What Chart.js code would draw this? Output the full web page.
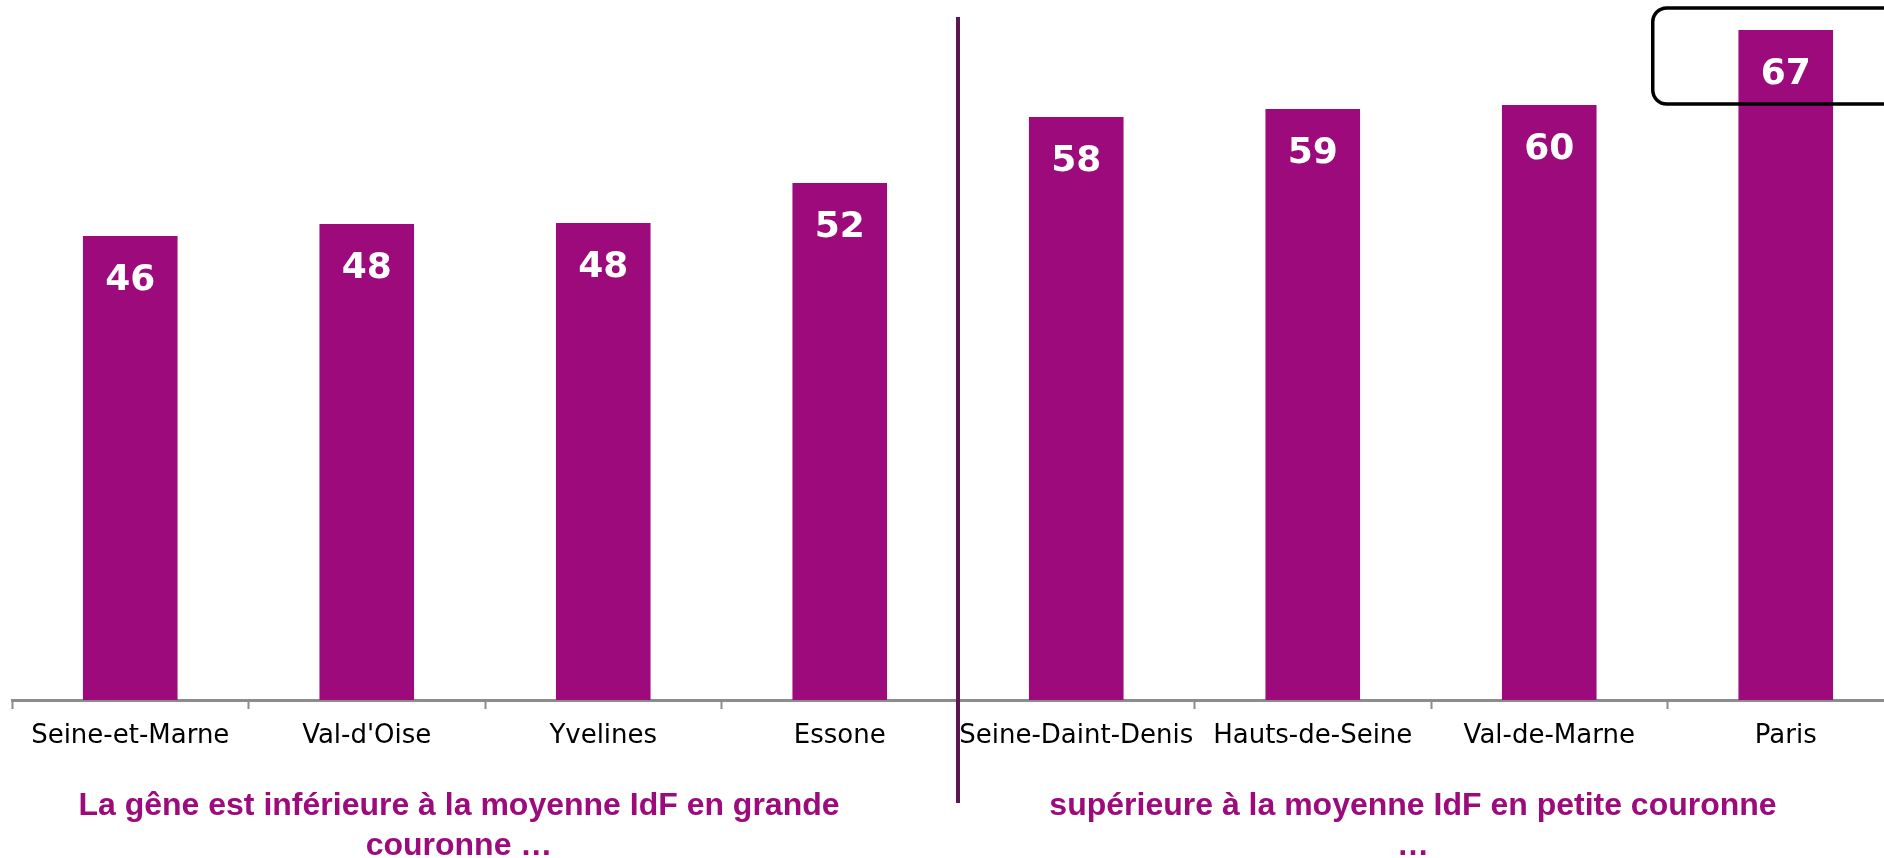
<!DOCTYPE html>
<html><head><meta charset="utf-8">
<script src="https://cdn.jsdelivr.net/npm/chart.js@4.4.1/dist/chart.umd.min.js"></script>
<style>
html,body{margin:0;padding:0;overflow:hidden;background:#fff;width:1884px;height:858px}
#wrap{position:absolute;left:0;top:0;width:1904px;height:858px}
</style>
</head><body>
<div id="wrap"><canvas id="c" width="1904" height="858"></canvas></div>
<script>
const categories = ['Seine-et-Marne', "Val-d'Oise", 'Yvelines', 'Essone', 'Seine-Daint-Denis', 'Hauts-de-Seine', 'Val-de-Marne', 'Paris'];
const values = [46.4, 47.6, 47.7, 51.7, 58.3, 59.1, 59.5, 67.0];
const valueLabels = ['46', '48', '48', '52', '58', '59', '60', '67'];
const noteLeft = ['La gêne est inférieure à la moyenne IdF en grande', 'couronne …'];
const noteRight = ['supérieure à la moyenne IdF en petite couronne', '…'];
const highlightIndex = 7;

const BAR = '#9C0A7B';
const NOTE = '#9C0A7B';
const AXIS = '#8C8C8C';

const decor = {
  id: 'decor',
  afterDatasetsDraw(chart) {
    const ctx = chart.ctx;
    const meta = chart.getDatasetMeta(0);
    ctx.save();
    ctx.fillStyle = '#fff';
    ctx.font = 'bold 36px "DejaVu Sans"';
    ctx.textAlign = 'center';
    ctx.textBaseline = 'middle';
    meta.data.forEach((bar, i) => {
      ctx.fillText(valueLabels[i], bar.x, bar.y + 45);
    });
    ctx.restore();
  },
  afterDraw(chart) {
    const ctx = chart.ctx;
    const xs = chart.scales.x;
    const ca = chart.chartArea;
    // divider between the two groups
    const divX = (xs.getPixelForValue(3) + xs.getPixelForValue(4)) / 2;
    ctx.save();
    ctx.strokeStyle = '#5E1652';
    ctx.lineWidth = 4;
    ctx.beginPath();
    ctx.moveTo(divX, ca.top + 17);
    ctx.lineTo(divX, ca.bottom + 103);
    ctx.stroke();
    // highlight box around top value
    const hb = chart.getDatasetMeta(0).data[highlightIndex];
    const bx = hb.x - 133, by = ca.top + 8, bw = 400, bh = 96, r = 14;
    ctx.strokeStyle = '#000';
    ctx.lineWidth = 3.5;
    ctx.beginPath();
    ctx.moveTo(bx + r, by);
    ctx.lineTo(bx + bw, by);
    ctx.moveTo(bx + bw, by + bh);
    ctx.lineTo(bx + r, by + bh);
    ctx.arcTo(bx, by + bh, bx, by + bh - r, r);
    ctx.lineTo(bx, by + r);
    ctx.arcTo(bx, by, bx + r, by, r);
    ctx.stroke();
    // notes
    ctx.fillStyle = NOTE;
    ctx.font = 'bold 32px "Liberation Sans"';
    ctx.textAlign = 'center';
    ctx.textBaseline = 'alphabetic';
    const base = ca.bottom;
    ctx.fillText(noteLeft[0], 459, base + 115);
    ctx.fillText(noteLeft[1], 459, base + 155);
    ctx.fillText(noteRight[0], 1413, base + 115);
    ctx.fillText(noteRight[1], 1413, base + 155);
    ctx.restore();
  }
};

new Chart(document.getElementById('c'), {
  type: 'bar',
  data: {
    labels: categories,
    datasets: [{
      data: values,
      backgroundColor: BAR,
      borderWidth: 0,
      barPercentage: 0.4,
      categoryPercentage: 1.0
    }]
  },
  options: {
    responsive: false,
    devicePixelRatio: 1,
    animation: false,
    layout: { padding: { left: 12, right: 0, top: 0, bottom: 0 } },
    plugins: { legend: { display: false }, tooltip: { enabled: false } },
    scales: {
      x: {
        grid: { offset: true, drawOnChartArea: false, drawTicks: true, tickLength: 9, tickColor: AXIS, tickWidth: 2 },
        border: { color: AXIS, width: 3 },
        ticks: { color: '#000', font: { family: '"DejaVu Sans"', size: 26 }, padding: 12, maxRotation: 0, autoSkip: false },
        afterFit(s) { s.height = 158; }
      },
      y: { display: false, min: 0, max: 70 }
    }
  },
  plugins: [decor]
});
</script>
</body></html>
